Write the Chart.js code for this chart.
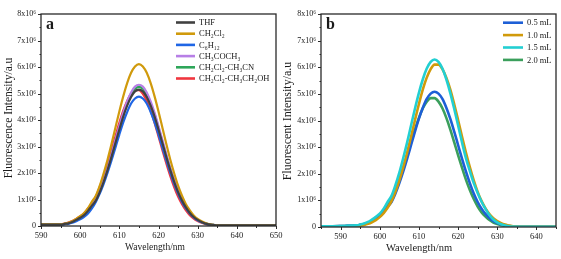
<!DOCTYPE html>
<html>
<head>
<meta charset="utf-8">
<script src="https://cdn.jsdelivr.net/npm/chart.js@4.4.1/dist/chart.umd.min.js"></script>
<style>
    html, body { margin: 0; padding: 0; background: #fff; }
    #wrap { position: relative; width: 561px; height: 259px; overflow: hidden; }
    canvas { position: absolute; top: 0; }
</style>
</head>
<body>
<div id="wrap">
    <canvas id="chartA" width="300" height="259" style="left:0"></canvas>
    <canvas id="chartB" width="281" height="259" style="left:280px"></canvas>
</div>
<script>
// Intensities are in units of 10^6 a.u.
const wavelengthsA = [590, 592, 594,
    595, 596, 597, 598, 599, 600, 601, 602, 603, 604, 605, 606, 607, 608, 609, 610, 611, 612, 613, 614,
    615,
    616, 617, 618, 619, 620, 621, 622, 623, 624, 625, 626, 627, 628, 629, 630, 631, 632, 633, 634, 635,
    640, 645, 650];

const thf = [0.05, 0.05, 0.05,
    0.05, 0.08, 0.10, 0.15, 0.23, 0.31, 0.41, 0.57, 0.77, 0.96, 1.28, 1.67, 2.12, 2.61, 3.13, 3.64, 4.13, 4.54, 4.87, 5.08,
    5.15,
    5.08, 4.87, 4.54, 4.13, 3.64, 3.13, 2.61, 2.12, 1.67, 1.28, 0.96, 0.70, 0.49, 0.34, 0.23, 0.15, 0.09, 0.06, 0.04, 0.02,
    0.02, 0.02, 0.02];
const dichloromethane = [0.06, 0.06, 0.06,
    0.06, 0.09, 0.12, 0.18, 0.27, 0.37, 0.49, 0.67, 0.92, 1.14, 1.52, 1.99, 2.51, 3.09, 3.71, 4.32, 4.89, 5.39, 5.78, 6.02,
    6.11,
    6.02, 5.78, 5.39, 4.89, 4.32, 3.71, 3.09, 2.51, 1.99, 1.52, 1.14, 0.82, 0.59, 0.40, 0.27, 0.18, 0.11, 0.07, 0.04, 0.02,
    0.02, 0.02, 0.02];
const cyclohexane = [0.04, 0.04, 0.04,
    0.04, 0.06, 0.08, 0.12, 0.18, 0.25, 0.34, 0.47, 0.66, 0.91, 1.22, 1.59, 2.01, 2.47, 2.96, 3.45, 3.91, 4.30, 4.62, 4.81,
    4.88,
    4.81, 4.62, 4.30, 3.91, 3.45, 2.96, 2.47, 2.01, 1.59, 1.22, 0.91, 0.66, 0.47, 0.32, 0.21, 0.14, 0.09, 0.05, 0.03, 0.02,
    0.02, 0.02, 0.02];
const acetone = [0.05, 0.05, 0.05,
    0.05, 0.08, 0.11, 0.16, 0.24, 0.32, 0.43, 0.59, 0.80, 0.99, 1.33, 1.73, 2.19, 2.70, 3.24, 3.77, 4.27, 4.70, 5.04, 5.26,
    5.33,
    5.26, 5.04, 4.70, 4.27, 3.77, 3.24, 2.70, 2.19, 1.73, 1.33, 0.99, 0.72, 0.51, 0.35, 0.23, 0.15, 0.10, 0.06, 0.04, 0.02,
    0.02, 0.02, 0.02];
const dcmAcetonitrile = [0.05, 0.05, 0.05,
    0.05, 0.08, 0.11, 0.16, 0.24, 0.32, 0.42, 0.58, 0.79, 0.98, 1.31, 1.71, 2.16, 2.66, 3.19, 3.71, 4.21, 4.63, 4.97, 5.18,
    5.25,
    5.18, 4.97, 4.63, 4.21, 3.71, 3.19, 2.66, 2.16, 1.71, 1.31, 0.98, 0.71, 0.50, 0.35, 0.23, 0.15, 0.09, 0.06, 0.04, 0.02,
    0.02, 0.02, 0.02];
const dcmEthanol = [0.05, 0.05, 0.05,
    0.06, 0.09, 0.13, 0.19, 0.27, 0.36, 0.48, 0.66, 0.85, 1.11, 1.47, 1.89, 2.36, 2.86, 3.38, 3.89, 4.35, 4.72, 4.99, 5.13,
    5.13, 4.99, 4.72, 4.35, 3.89, 3.38, 2.86, 2.36, 1.89, 1.47, 1.11, 0.82, 0.59, 0.41, 0.28, 0.19, 0.12, 0.07, 0.05, 0.03, 0.02,
    0.02, 0.02, 0.02];

const solventLabels = ["THF", "CH₂Cl₂", "C₆H₁₂", "CH₃COCH₃", "CH₂Cl₂-CH₃CN", "CH₂Cl₂-CH₃CH₂OH"];
const solventColors = ["#404040", "#d09a0c", "#1f66e5", "#b77fe6", "#2ea65a", "#f0363f"];
const solventSeries = [thf, dichloromethane, cyclohexane, acetone, dcmAcetonitrile, dcmEthanol];

const wavelengthsB = [585, 588, 591,
    594, 595, 596, 597, 598, 599, 600, 601, 602, 603, 604, 605, 606, 607, 608, 609, 610, 611, 612, 613,
    614,
    615, 616, 617, 618, 619, 620, 621, 622, 623, 624, 625, 626, 627, 628, 629, 630, 631, 632, 633, 634,
    637, 641, 645];

const volume05 = [0.03, 0.03, 0.04,
    0.05, 0.08, 0.10, 0.15, 0.23, 0.30, 0.41, 0.56, 0.76, 0.94, 1.26, 1.65, 2.09, 2.57, 3.08, 3.59, 4.07, 4.48, 4.81, 5.01,
    5.08,
    5.01, 4.81, 4.48, 4.07, 3.59, 3.08, 2.57, 2.09, 1.65, 1.26, 0.94, 0.69, 0.49, 0.34, 0.22, 0.15, 0.09, 0.06, 0.04, 0.02,
    0.01, 0.01, 0.01];
const volume10 = [0.03, 0.03, 0.03,
    0.04, 0.05, 0.08, 0.12, 0.18, 0.26, 0.37, 0.52, 0.72, 0.97, 1.32, 1.75, 2.25, 2.80, 3.40, 4.02, 4.62, 5.17, 5.61, 5.93, 6.10,
    6.10, 5.93, 5.61, 5.17, 4.62, 4.02, 3.40, 2.80, 2.25, 1.75, 1.32, 0.97, 0.70, 0.49, 0.33, 0.22, 0.14, 0.09, 0.06, 0.03,
    0.01, 0.01, 0.01];
const volume15 = [0.03, 0.03, 0.04,
    0.06, 0.09, 0.13, 0.19, 0.28, 0.38, 0.50, 0.69, 0.94, 1.17, 1.57, 2.04, 2.59, 3.18, 3.82, 4.45, 5.04, 5.55, 5.95, 6.20,
    6.29,
    6.20, 5.95, 5.55, 5.04, 4.45, 3.82, 3.18, 2.59, 2.10, 1.65, 1.28, 0.95, 0.68, 0.45, 0.28, 0.17, 0.10, 0.06, 0.03, 0.02,
    0.01, 0.01, 0.01];
const volume20 = [0.03, 0.03, 0.04,
    0.05, 0.08, 0.11, 0.16, 0.23, 0.32, 0.44, 0.60, 0.80, 1.05, 1.39, 1.78, 2.23, 2.70, 3.19, 3.67, 4.10, 4.46, 4.71, 4.84,
    4.84, 4.71, 4.46, 4.10, 3.67, 3.19, 2.70, 2.23, 1.78, 1.39, 1.05, 0.77, 0.55, 0.39, 0.26, 0.17, 0.11, 0.07, 0.04, 0.02, 0.01,
    0.01, 0.01, 0.01];

const volumeLabels = ["0.5 mL", "1.0 mL", "1.5 mL", "2.0 mL"];
const volumeColors = ["#1d5fd6", "#d19a0a", "#22cfd2", "#3b9f5c"];
const volumeSeries = [volume05, volume10, volume15, volume20];
const volumeDrawOrder = [2, 1, 0, 3];

const wavelengthTicksA = [590, 600, 610, 620, 630, 640, 650];
const wavelengthTicksB = [590, 600, 610, 620, 630, 640];
const intensityTicks = [0, 1, 2, 3, 4, 5, 6, 7, 8];

const SERIF = "'Liberation Serif', 'DejaVu Serif', serif";

/**
 * Frame, tick marks, titles, panel letter and legend.
 */
const panelDecor = {
    id: "panelDecor",
    afterDraw(chart, args, opts)
    {
        const ctx = chart.ctx;
        const {left, right, top, bottom} = chart.chartArea;
        const xs = chart.scales.x;
        const ys = chart.scales.y;

        ctx.save();
        ctx.strokeStyle = "#2a2a2a";
        ctx.lineWidth = 1.3;
        ctx.strokeRect(left, top, right - left, bottom - top);

        ctx.lineWidth = 1;
        ctx.beginPath();
        for (let v = Math.ceil(xs.min / 5) * 5; v <= xs.max; v += 5) {
            const px = Math.round(xs.getPixelForValue(v)) + 0.5;
            ctx.moveTo(px, bottom);
            ctx.lineTo(px, bottom + (v % 10 === 0 ? 3 : 2));
        }
        for (let v = 0; v <= ys.max; v += 0.5) {
            const py = Math.round(ys.getPixelForValue(v)) + 0.5;
            ctx.moveTo(left, py);
            ctx.lineTo(left - (v % 1 === 0 ? 3 : 1.5), py);
        }
        ctx.stroke();

        ctx.fillStyle = "#1a1a1a";
        ctx.textAlign = "center";
        ctx.textBaseline = "middle";

        ctx.font = opts.xTitleSize + "px " + SERIF;
        ctx.fillText("Wavelength/nm", opts.xTitleX, opts.xTitleY);

        ctx.save();
        ctx.translate(opts.yTitleX, opts.yTitleY);
        ctx.rotate(-Math.PI / 2);
        ctx.font = opts.yTitleSize + "px " + SERIF;
        ctx.fillText(opts.yTitle, 0, 0);
        ctx.restore();

        ctx.textAlign = "left";
        ctx.textBaseline = "alphabetic";
        ctx.font = "bold 16px " + SERIF;
        ctx.fillText(opts.letter, left + 5, top + 15);

        ctx.font = "8.5px " + SERIF;
        ctx.textBaseline = "middle";
        chart.data.datasets.forEach((ds, i) => {
            const y = opts.legendY + i * opts.legendRow;
            ctx.strokeStyle = ds.borderColor;
            ctx.lineWidth = 2.6;
            ctx.beginPath();
            ctx.moveTo(opts.legendX, y);
            ctx.lineTo(opts.legendX + opts.legendLine, y);
            ctx.stroke();
            ctx.fillStyle = "#1a1a1a";
            ctx.fillText(ds.label, opts.legendX + opts.legendLine + 4, y + 0.5);
        });
        ctx.restore();
    }
};

function makePanel(canvasId, wavelengths, series, labels, colors, cfg)
{
    const datasets = series.map((values, i) => ({
        label: labels[i],
        data: wavelengths.map((w, j) => ({x: w, y: values[j]})),
        borderColor: colors[i],
        borderWidth: cfg.lineWidth,
        pointRadius: 0,
        cubicInterpolationMode: "monotone",
        order: cfg.order ? cfg.order[i] : i,
    }));

    return new Chart(document.getElementById(canvasId), {
        type: "line",
        data: {datasets},
        options: {
            responsive: false,
            animation: false,
            devicePixelRatio: 1,
            layout: {padding: {top: 14, right: cfg.padRight, bottom: 0, left: 0}},
            plugins: {
                legend: {display: false},
                tooltip: {enabled: false},
                panelDecor: cfg.decor,
            },
            scales: {
                x: {
                    type: "linear",
                    min: cfg.xMin,
                    max: cfg.xMax,
                    grid: {display: false, drawTicks: false},
                    border: {display: false},
                    afterFit: (scale) => { scale.height = cfg.xAxisHeight; },
                    afterBuildTicks: (scale) => {
                        scale.ticks = cfg.xTicks.map((v) => ({value: v}));
                    },
                    ticks: {
                        padding: 5,
                        color: "#1a1a1a",
                        font: {family: SERIF, size: 8.5},
                        maxRotation: 0,
                        autoSkip: false,
                        callback: (v) => String(v),
                    },
                },
                y: {
                    min: intensityTicks[0],
                    max: intensityTicks[intensityTicks.length - 1],
                    grid: {display: false, drawTicks: false},
                    border: {display: false},
                    afterFit: (scale) => { scale.width = 41; },
                    afterBuildTicks: (scale) => {
                        scale.ticks = intensityTicks.map((v) => ({value: v}));
                    },
                    ticks: {
                        padding: 5,
                        color: "#1a1a1a",
                        font: {family: SERIF, size: 8},
                        callback: (v) => (v === 0 ? "0" : v + "x10⁶"),
                    },
                },
            },
        },
        plugins: [panelDecor],
    });
}

makePanel("chartA", wavelengthsA, solventSeries, solventLabels, solventColors, {
    xMin: 590,
    xMax: 650,
    xTicks: wavelengthTicksA,
    padRight: 24,
    xAxisHeight: 33,
    lineWidth: 2.2,
    decor: {
        letter: "a",
        yTitle: "Fluorescence Intensity/a.u",
        yTitleX: 9,
        yTitleY: 118,
        yTitleSize: 11.5,
        xTitleX: 155,
        xTitleY: 247,
        xTitleSize: 9.5,
        legendX: 176,
        legendLine: 19,
        legendY: 22.5,
        legendRow: 11.2,
    },
});

makePanel("chartB", wavelengthsB, volumeSeries, volumeLabels, volumeColors, {
    xMin: 585,
    xMax: 645,
    xTicks: wavelengthTicksB,
    padRight: 5,
    xAxisHeight: 32,
    lineWidth: 2.6,
    order: volumeDrawOrder,
    decor: {
        letter: "b",
        yTitle: "Fluorescent Intensity/a.u",
        yTitleX: 8,
        yTitleY: 121,
        yTitleSize: 12,
        xTitleX: 139,
        xTitleY: 248,
        xTitleSize: 10.5,
        legendX: 223,
        legendLine: 20,
        legendY: 22.7,
        legendRow: 12.4,
    },
});
</script>
</body>
</html>
